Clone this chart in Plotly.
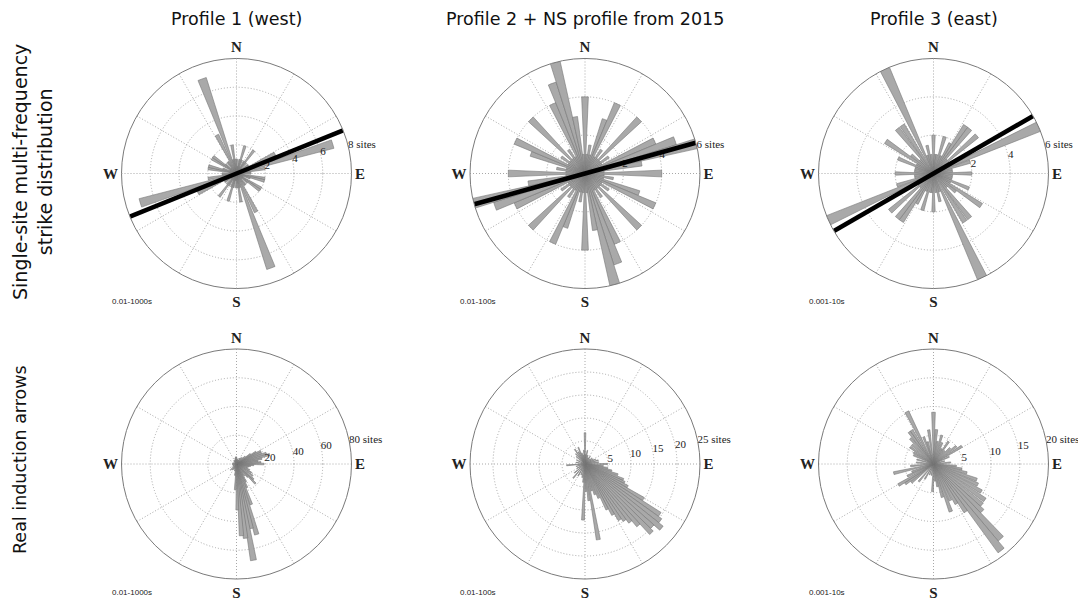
import plotly.graph_objects as go

W, H = 1078, 600

titles = ["Profile 1 (west)", "Profile 2 + NS profile from 2015", "Profile 3 (east)"]
row_labels = ["Single-site multi-frequency<br>strike distribution", "Real induction arrows"]
periods = ["0.01-1000s", "0.01-100s", "0.001-10s"]

# ---- strike roses (values read for 0-180 deg, strike is 180-deg symmetric) ----
p1_theta = [2, 7, 12, 17, 22, 27, 32, 37, 42, 47, 52, 57, 63, 68, 73, 80, 85, 90, 95, 100,
            105, 110, 115, 121, 126, 131, 136, 141, 146, 153, 160, 166, 171, 176]
p1_r = [1, 0.5, 1, 2, 1, 0.5, 1, 2, 1, 0.5, 1, 1, 3, 1, 7, 2, 1, 1, 0.5, 2,
        2, 1, 0.5, 2, 2, 1, 0.5, 1, 1, 3, 7, 1, 2, 1]

p2_theta = [0, 5, 10, 15, 20, 25, 30, 35, 40, 45, 50, 55, 60, 65, 70, 75, 80, 85, 90, 95,
            100, 105, 110, 115, 120, 125, 130, 135, 140, 145, 150, 155, 160, 165, 170, 175]
p2_r = [4, 1, 1.5, 1, 3, 4, 1, 1.5, 1, 4, 1, 1.5, 1, 4, 5, 6, 3, 1, 4, 1,
        1.5, 1, 3, 4, 1, 1.5, 1, 4, 1, 1.5, 1, 4, 5, 6, 3, 1]

p3_theta = [0, 5, 10, 17, 23, 29, 34, 39, 44, 49, 55, 60, 66, 72, 78, 84, 90, 96, 102, 108,
            113, 119, 124, 130, 135, 141, 147, 155, 161, 167, 173]
p3_r = [2, 1, 1, 2, 1, 1.8, 3, 3, 1, 3, 1, 1, 6, 2, 1, 1, 2, 1, 1, 1,
        2, 1, 3, 1.5, 1, 3, 3, 6, 1, 1.5, 1]

strike_angle = [68, 74.5, 60]

# ---- real induction arrow roses ----
p4_theta = [0, 8, 16, 24, 32, 40, 48, 54, 58, 62, 66, 70, 74, 78, 82, 86, 90, 94, 98, 102,
            108, 114, 120, 126, 132, 136, 140, 146, 152, 156, 160, 164, 167, 170, 173, 176,
            179, 183, 188, 195, 205, 215, 225, 240, 260, 280, 300, 320, 335, 345, 352]
p4_r = [5, 3, 4, 3, 5, 6, 8, 12, 16, 19, 19, 22, 24, 18, 15, 17, 19, 12, 10, 9,
        8, 10, 12, 14, 16, 19, 12, 10, 14, 18, 30, 51, 46, 68, 52, 50,
        32, 18, 8, 5, 4, 5, 6, 3, 3, 3, 2, 3, 3, 4, 5]

p5_theta = [0, 5, 10, 18, 26, 34, 42, 50, 58, 66, 74, 82, 90, 96, 100, 104, 108, 112, 115,
            118, 121, 124, 127, 130, 133, 136, 139, 142, 145, 148, 151, 154, 158, 162, 166,
            170, 174, 178, 182, 186, 192, 200, 210, 220, 230, 242, 255, 266, 280, 295, 310,
            318, 325, 332, 338, 344, 350, 355]
p5_r = [6.8, 2, 3, 2, 1.5, 2, 1.5, 2, 2, 2.5, 3, 3, 4.9, 4, 5, 6, 7.5, 9, 9.5,
        10.5, 14.8, 19.6, 20.5, 21.7, 20, 20.8, 17.7, 16, 15, 14.3, 12.6, 11, 8, 7, 6,
        16.7, 8, 6, 12.2, 4, 3, 2.5, 3, 4, 3, 2, 2, 4, 2, 2, 2.5,
        3, 3.9, 3, 3.9, 2.5, 2, 3]

p6_theta = [0, 5, 10, 16, 22, 28, 34, 40, 46, 52, 58, 65, 75, 85, 95, 100, 105, 110, 115,
            120, 125, 130, 134, 138, 142, 146, 150, 155, 160, 165, 170, 175, 182, 190, 200,
            210, 220, 230, 235, 239, 245, 250, 257, 265, 275, 285, 294, 300, 306, 312, 318,
            323, 327, 333, 340, 345, 352]
p6_r = [9, 6, 4, 5.2, 4, 3, 4.7, 3, 4, 5, 5.8, 3, 2, 3, 4, 5, 6, 8, 8.5,
        9.6, 10.9, 11, 11.8, 17.5, 19.1, 10, 8, 7, 8.8, 6, 4, 3, 4.8, 2, 2,
        3, 4, 5, 6, 7.1, 5, 4, 7.1, 4, 3, 3, 3.8, 4, 5, 5, 6,
        7, 7, 10.2, 5, 4, 6]

rmax = [8, 6, 6, 80, 25, 20]
rticks = [[2, 4, 6, 8], [2, 4, 6], [2, 4, 6], [20, 40, 60, 80], [5, 10, 15, 20, 25], [5, 10, 15, 20]]

panels = [
    (p1_theta, p1_r, 5, True),
    (p2_theta, p2_r, 5, True),
    (p3_theta, p3_r, 5, True),
    (p4_theta, p4_r, 3.5, False),
    (p5_theta, p5_r, 3, False),
    (p6_theta, p6_r, 4, False),
]

# ---- layout geometry (pixels) ----
R = 115
cxs = [236.5, 585, 933.5]
cys = [173.5, 464]
label_bearing = [76, 78]

BAR_FILL = "#a9a9a9"
BAR_EDGE = "#777777"
GRID = "#a8a8a8"
DOTS = "1px,2px"

fig = go.Figure()
layout = {}
for i, (th, rr, w, mirror) in enumerate(panels):
    name = "polar" if i == 0 else f"polar{i + 1}"
    sub = name
    if mirror:
        theta = list(th) + [t + 180 for t in th]
        r = list(rr) + list(rr)
    else:
        theta, r = list(th), list(rr)
    fig.add_trace(go.Barpolar(
        theta=theta, r=r, width=[w] * len(theta), subplot=sub,
        marker=dict(color=BAR_FILL, line=dict(color=BAR_EDGE, width=0.6)),
        showlegend=False, hoverinfo="skip"))
    col, row = i % 3, i // 3
    cx, cy = cxs[col], cys[row]
    tt = [str(v) for v in rticks[i]]
    tt[-1] = tt[-1] + " sites"
    # radial tick labels as text placed through the polar scale
    fig.add_trace(go.Scatterpolar(
        theta=[label_bearing[row]] * len(rticks[i]), r=rticks[i], text=tt, subplot=sub,
        mode="text", textposition="middle right", cliponaxis=False,
        textfont=dict(family="Liberation Serif", size=11, color="#222222"),
        showlegend=False, hoverinfo="skip"))
    if mirror:
        a = strike_angle[i]
        fig.add_trace(go.Scatterpolar(
            theta=[a + 180, a, a], r=[rmax[i], 0, rmax[i]], subplot=sub, mode="lines",
            line=dict(color="black", width=4.5), showlegend=False, hoverinfo="skip",
            cliponaxis=False))
    layout[name] = dict(
        domain=dict(x=[(cx - R) / W, (cx + R) / W], y=[(H - cy - R) / H, (H - cy + R) / H]),
        bgcolor="white",
        angularaxis=dict(
            rotation=90, direction="clockwise",
            tickvals=list(range(0, 360, 30)),
            ticktext=["<b>N</b>", "", "", "<b>E</b>", "", "", "<b>S</b>", "", "", "<b>W</b>", "", ""],
            tickfont=dict(family="Liberation Serif", size=15, color="#222"),
            ticks="", showgrid=True, gridcolor=GRID, griddash=DOTS, gridwidth=1,
            showline=True, linecolor="#7a7a7a", linewidth=1),
        radialaxis=dict(
            range=[0, rmax[i]], tickvals=rticks[i], showticklabels=False,
            ticks="", showline=False, showgrid=True, gridcolor=GRID, griddash=DOTS, gridwidth=1),
    )

annotations = []
for col, t in enumerate(titles):
    annotations.append(dict(text=t, x=cxs[col] / W, y=1 - 19 / H, xref="paper", yref="paper",
                            showarrow=False, xanchor="center", yanchor="middle",
                            font=dict(family="DejaVu Sans", size=17.5, color="#111")))
annotations.append(dict(text=row_labels[0], x=33 / W, y=1 - 172 / H, xref="paper", yref="paper",
                        showarrow=False, textangle=-90, xanchor="center", yanchor="middle",
                        font=dict(family="DejaVu Sans", size=19, color="#111")))
annotations.append(dict(text=row_labels[1], x=20 / W, y=1 - 460 / H, xref="paper", yref="paper",
                        showarrow=False, textangle=-90, xanchor="center", yanchor="middle",
                        font=dict(family="DejaVu Sans", size=17.5, color="#111")))
for row in range(2):
    for col in range(3):
        annotations.append(dict(text=periods[col], x=(cxs[col] - 127) / W,
                                y=1 - (cys[row] + 128) / H, xref="paper", yref="paper",
                                showarrow=False, xanchor="left", yanchor="middle",
                                font=dict(family="Liberation Sans", size=8, color="#222")))

fig.update_layout(width=W, height=H, margin=dict(l=0, r=0, t=0, b=0),
                  paper_bgcolor="white", plot_bgcolor="white",
                  annotations=annotations, **layout)
fig.write_html("out.html")
